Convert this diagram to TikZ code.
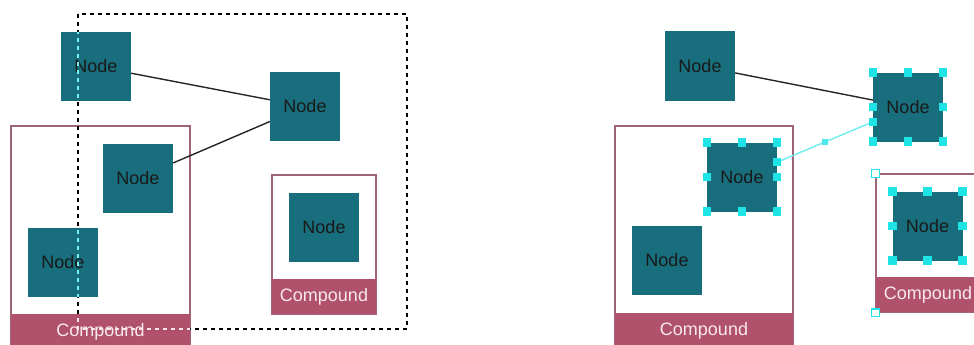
\documentclass[tikz,border=0pt]{standalone}
\usepackage{fontspec}
\setmainfont{Liberation Sans}
\definecolor{nodeteal}{RGB}{24,110,124}
\definecolor{compfill}{RGB}{176,82,108}
\definecolor{compborder}{RGB}{160,100,120}
\definecolor{complabeltext}{RGB}{248,232,238}
\definecolor{selcyan}{RGB}{30,228,230}
\tikzset{
  nodebox/.style={fill=nodeteal,minimum width=70pt,minimum height=69pt,inner sep=0pt,text=black!90,font=\fontsize{18}{20}\selectfont},
  compframe/.style={draw=compborder,line width=1.3pt,fill=white,inner sep=0pt},
  complabel/.style={fill=compfill,text=complabeltext,minimum height=35pt,inner sep=0pt,anchor=south,font=\fontsize{18}{20}\selectfont},
  link/.style={draw=black!85,line width=1.4pt},
  sellink/.style={draw=selcyan!65,line width=1.4pt},
  handle/.style={fill=selcyan,minimum size=8.5pt,inner sep=0pt},
  smallhandle/.style={fill=selcyan!80,minimum size=5.5pt,inner sep=0pt},
  framehandle/.style={draw=selcyan,fill=white,line width=1.2pt,minimum size=7.5pt,inner sep=0pt},
  selbox/.style={line width=1.4pt,dash pattern=on 4pt off 4pt}
}
\begin{document}
\begin{tikzpicture}[x=1pt,y=-1pt]
\useasboundingbox (0,0) rectangle (974,345);
\clip (0,0) rectangle (974,345);
\fill[white] (0,0) rectangle (974,345);
% left: before the move
\node[compframe,minimum width=179pt,minimum height=223pt] (cmpL) at (100.5,237.5) {};
\node[complabel,minimum width=179pt] (cmpLlab) at (cmpL.south) {Compound};
\node[compframe,minimum width=104pt,minimum height=139pt] (cmpR) at (324,244.5) {};
\node[complabel,minimum width=104pt] (cmpRlab) at (cmpR.south) {Compound};
\node[nodebox] (nA) at (96,66.5) {Node};
\node[nodebox] (nB) at (305,106.5) {Node};
\node[nodebox] (nC) at (138,178) {Node};
\node[nodebox] (nD) at (63,262.5) {Node};
\node[nodebox] (nE) at (324,227) {Node};
\draw[link] (nA) -- (nB);
\draw[link] (nC) -- (nB);
% dashed selection box
\coordinate (selNW) at (78,14);
\coordinate (selSE) at (407,329);
\draw[selbox,black] (selNW) rectangle (selSE);
\begin{scope}
\clip (nA.north west) rectangle (nA.south east) (nD.north west) rectangle (nD.south east);
\draw[selbox,selcyan!60] (selNW) rectangle (selSE);
\end{scope}
\begin{scope}
\clip (cmpLlab.north west) rectangle (cmpLlab.south east);
\draw[selbox,complabeltext] (selNW) rectangle (selSE);
\end{scope}
% right: after the move
\node[compframe,minimum width=178pt,minimum height=222pt] (cmpLs) at (704,237) {};
\node[complabel,minimum width=178pt] (cmpLslab) at (cmpLs.south) {Compound};
\node[compframe,minimum width=104pt,minimum height=138pt] (cmpRs) at (928,243) {};
\node[complabel,minimum width=104pt] (cmpRslab) at (cmpRs.south) {Compound};
\node[nodebox] (nAs) at (700,66) {Node};
\node[nodebox] (nBs) at (908,107) {Node};
\node[nodebox] (nCs) at (742,177) {Node};
\node[nodebox] (nDs) at (667,260.5) {Node};
\node[nodebox] (nEs) at (927.5,226) {Node};
\draw[link] (nAs) -- (nBs);
\draw[sellink] (nCs) -- (nBs) coordinate[pos=0.5] (midCB);
% handles
\node[handle] (hB1) at (nBs.north west) {};
\node[handle] (hB2) at (nBs.north) {};
\node[handle] (hB3) at (nBs.north east) {};
\node[handle] (hB4) at (nBs.west) {};
\node[handle] (hB5) at (nBs.east) {};
\node[handle] (hB6) at (nBs.south west) {};
\node[handle] (hB7) at (nBs.south) {};
\node[handle] (hB8) at (nBs.south east) {};
\node[handle] (hB9) at (nBs.west |- 0,122) {};
\node[handle] (hC1) at (nCs.north west) {};
\node[handle] (hC2) at (nCs.north) {};
\node[handle] (hC3) at (nCs.north east) {};
\node[handle] (hC4) at (nCs.west) {};
\node[handle] (hC5) at (nCs.east) {};
\node[handle] (hC6) at (nCs.south west) {};
\node[handle] (hC7) at (nCs.south) {};
\node[handle] (hC8) at (nCs.south east) {};
\node[handle] (hC9) at (nCs.east |- 0,162) {};
\node[smallhandle] (hM) at (midCB) {};
\node[handle] (hE1) at (nEs.north west) {};
\node[handle] (hE2) at (nEs.north) {};
\node[handle] (hE3) at (nEs.north east) {};
\node[handle] (hE4) at (nEs.west) {};
\node[handle] (hE5) at (nEs.east) {};
\node[handle] (hE6) at (nEs.south west) {};
\node[handle] (hE7) at (nEs.south) {};
\node[handle] (hE8) at (nEs.south east) {};
\node[framehandle] (hR1) at (cmpRs.north west) {};
\node[framehandle] (hR2) at (cmpRs.south west) {};
\end{tikzpicture}
\end{document}
